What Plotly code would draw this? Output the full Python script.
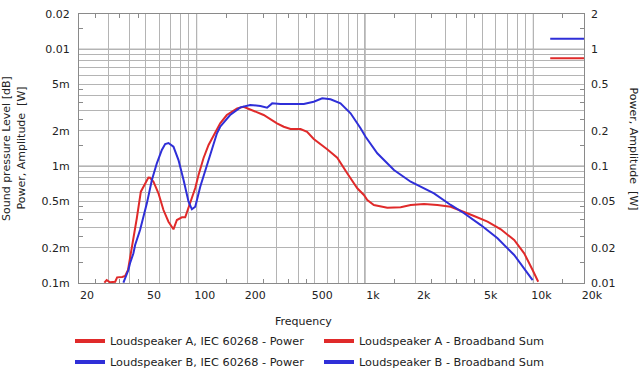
import plotly.graph_objects as go
import math

# ---------------- data ----------------
freq_a = [28.3, 29.2, 30.6, 32.8, 33.7, 36.1, 37.6, 39.1, 40.2, 42.1, 44.1, 46.6, 49.4,
          51.7, 52.9, 55.4, 59.3, 63.5, 68.0, 72.8, 76.3, 81.7, 85.5, 91.6, 98.1, 102.6,
          109.9, 117.7, 126, 138, 151, 174, 190, 208, 250, 300, 329, 361, 414, 453, 496,
          596, 684, 784, 900, 985, 1032, 1129, 1357, 1629, 1868, 2242, 2692, 3231, 3878,
          4446, 5346, 6412, 7694, 8824, 9902, 10692]
power_a = [1.006e-4, 1.06e-4, 1.014e-4, 1.026e-4, 1.118e-4, 1.125e-4, 1.147e-4, 1.291e-4,
           1.636e-4, 2.332e-4, 3.577e-4, 6.04e-4, 7.12e-4, 7.99e-4, 7.95e-4, 7.35e-4,
           5.85e-4, 4.21e-4, 3.345e-4, 2.88e-4, 3.457e-4, 3.646e-4, 3.646e-4, 4.83e-4,
           6.50e-4, 8.39e-4, 1.173e-3, 1.515e-3, 1.844e-3, 2.323e-3, 2.735e-3, 3.12e-3,
           3.22e-3, 3.06e-3, 2.735e-3, 2.323e-3, 2.172e-3, 2.076e-3, 2.076e-3, 1.968e-3,
           1.705e-3, 1.392e-3, 1.180e-3, 8.68e-4, 6.46e-4, 5.66e-4, 5.13e-4, 4.65e-4,
           4.41e-4, 4.44e-4, 4.65e-4, 4.74e-4, 4.65e-4, 4.49e-4, 4.07e-4, 3.74e-4,
           3.345e-4, 2.88e-4, 2.332e-4, 1.795e-4, 1.291e-4, 1.026e-4]

freq_b = [36.7, 38.4, 39.3, 40.2, 42.1, 43.1, 46.1, 50.6, 54.2, 58.0, 62.1, 65.0, 68.0,
          72.8, 78.0, 83.6, 89.5, 93.7, 98.1, 105, 112.5, 120.5, 132, 138, 158, 182, 208,
          239, 262, 281, 314, 433, 496, 557, 624, 715, 821, 941, 1008, 1183, 1486, 1868,
          2348, 2570, 3231, 3878, 4876, 6128, 7694, 8824, 9902]
power_b = [1.006e-4, 1.17e-4, 1.291e-4, 1.474e-4, 1.795e-4, 2.113e-4, 2.84e-4, 4.80e-4,
           7.60e-4, 1.056e-3, 1.373e-3, 1.545e-3, 1.576e-3, 1.464e-3, 1.127e-3, 7.60e-4,
           4.96e-4, 4.27e-4, 4.49e-4, 6.66e-4, 9.26e-4, 1.287e-3, 1.907e-3, 2.172e-3,
           2.735e-3, 3.18e-3, 3.33e-3, 3.27e-3, 3.16e-3, 3.44e-3, 3.40e-3, 3.40e-3,
           3.555e-3, 3.80e-3, 3.73e-3, 3.44e-3, 2.83e-3, 2.105e-3, 1.784e-3, 1.287e-3,
           9.26e-4, 7.35e-4, 6.24e-4, 5.85e-4, 4.65e-4, 3.95e-4, 3.13e-4, 2.41e-4,
           1.736e-4, 1.335e-4, 1.06e-4]

bb_freq = [12600, 20000]
bb_a = [0.836, 0.836]
bb_b = [1.23, 1.23]

names = ["Loudspeaker A, IEC 60268 - Power", "Loudspeaker B, IEC 60268 - Power",
         "Loudspeaker A - Broadband Sum", "Loudspeaker B - Broadband Sum"]

x_label_vals = [20, 50, 100, 200, 500, 1000, 2000, 5000, 10000, 20000]
x_label_text = ["20", "50", "100", "200", "500", "1k", "2k", "5k", "10k", "20k"]
x_grid_vals = [30, 40, 50, 60, 70, 80, 90, 200, 300, 400, 500, 600, 700, 800, 900,
               2000, 3000, 4000, 5000, 6000, 7000, 8000, 9000]
x_decade_vals = [100, 1000, 10000]
x_minor_vals = [25, 35, 45, 150, 250, 350, 450, 1500, 2500, 3500, 4500, 15000]

y_label_vals = [1e-4, 2e-4, 5e-4, 1e-3, 2e-3, 5e-3, 0.01, 0.02]
y_label_text = ["0.1m", "0.2m", "0.5m", "1m", "2m", "5m", "0.01", "0.02"]
y_grid_vals = [2e-4, 3e-4, 4e-4, 5e-4, 6e-4, 7e-4, 8e-4, 9e-4,
               2e-3, 3e-3, 4e-3, 5e-3, 6e-3, 7e-3, 8e-3, 9e-3]
y_decade_vals = [1e-3, 0.01]
y_minor_vals = [1.5e-4, 2.5e-4, 3.5e-4, 4.5e-4, 1.5e-3, 2.5e-3, 3.5e-3, 4.5e-3, 0.015]

y2_label_vals = [0.01, 0.02, 0.05, 0.1, 0.2, 0.5, 1, 2]
y2_label_text = ["0.01", "0.02", "0.05", "0.1", "0.2", "0.5", "1", "2"]

RED = "#e02a2a"
BLUE = "#2f2fd8"
GRID = "#b4b4b4"
DARK = "#8a8a8a"
FONT = "DejaVu Sans"

# ---------------- figure ----------------
fig = go.Figure()
fig.add_trace(go.Scatter(x=freq_a, y=power_a, mode="lines", line=dict(color=RED, width=2),
                         showlegend=False, yaxis="y"))
fig.add_trace(go.Scatter(x=freq_b, y=power_b, mode="lines", line=dict(color=BLUE, width=2),
                         showlegend=False, yaxis="y"))
fig.add_trace(go.Scatter(x=bb_freq, y=bb_a, mode="lines", line=dict(color=RED, width=2),
                         showlegend=False, yaxis="y2"))
fig.add_trace(go.Scatter(x=bb_freq, y=bb_b, mode="lines", line=dict(color=BLUE, width=2),
                         showlegend=False, yaxis="y2"))

# legend entries (thicker swatches)
for name, col, leg, grp in [(names[0], RED, "legend", "a"), (names[1], BLUE, "legend", "b"),
                            (names[2], RED, "legend2", "c"), (names[3], BLUE, "legend2", "d")]:
    fig.add_trace(go.Scatter(x=[None], y=[None], mode="lines", name=name,
                             line=dict(color=col, width=4), legend=leg, legendgroup=grp))

# axis tick arrays
xt = sorted(set(x_label_vals + x_grid_vals + x_decade_vals))
xtext = [x_label_text[x_label_vals.index(v)] if v in x_label_vals else "" for v in xt]
yt = sorted(set(y_label_vals + y_grid_vals + y_decade_vals))
ytext = [y_label_text[y_label_vals.index(v)] if v in y_label_vals else "" for v in yt]

LEG_TOP = 326.5
fig.update_layout(
    width=640, height=369,
    margin=dict(l=79, r=56, t=14, b=86, autoexpand=False),
    paper_bgcolor="white", plot_bgcolor="white",
    font=dict(family=FONT, size=11, color="#222222"),
    xaxis=dict(type="log", range=[math.log10(20), math.log10(20000)],
               tickmode="array", tickvals=xt, ticktext=xtext, ticks="",
               showgrid=True, gridcolor=GRID, gridwidth=1,
               showline=True, linecolor=DARK, linewidth=1, mirror="ticks",
               ticklabelshift=8, ticklabelstandoff=2,
               minor=dict(tickmode="array", tickvals=x_minor_vals, ticks="inside",
                          ticklen=4, tickcolor=DARK, showgrid=False),
               zeroline=False, automargin=False),
    yaxis=dict(type="log", range=[math.log10(1e-4), math.log10(0.02)],
               tickmode="array", tickvals=yt, ticktext=ytext, ticks="",
               showgrid=True, gridcolor=GRID, gridwidth=1,
               showline=True, linecolor=DARK, linewidth=1, mirror="ticks",
               ticklabelstandoff=6,
               minor=dict(tickmode="array", tickvals=y_minor_vals, ticks="inside",
                          ticklen=4, tickcolor=DARK, showgrid=False),
               zeroline=False, automargin=False),
    yaxis2=dict(type="log", range=[math.log10(0.01), math.log10(2)], overlaying="y",
                side="right", tickmode="array", tickvals=y2_label_vals,
                ticktext=y2_label_text, ticks="", showgrid=False, showline=False,
                ticklabelstandoff=6, zeroline=False, automargin=False),
    legend=dict(x=(70 - 79) / 505, y=(283 - LEG_TOP) / 269, xanchor="left", yanchor="top",
                orientation="v", traceorder="grouped", tracegroupgap=2,
                font=dict(family=FONT, size=11.3, color="#222222"),
                bgcolor="rgba(0,0,0,0)"),
    legend2=dict(x=(319 - 79) / 505, y=(283 - LEG_TOP) / 269, xanchor="left", yanchor="top",
                 orientation="v", traceorder="grouped", tracegroupgap=2,
                 font=dict(family=FONT, size=11.3, color="#222222"),
                 bgcolor="rgba(0,0,0,0)"),
)

# darker decade grid lines
for v in x_decade_vals:
    fig.add_shape(type="line", xref="x", yref="paper", x0=v, x1=v, y0=0, y1=1,
                  line=dict(color=DARK, width=1), layer="below")
for v in y_decade_vals:
    fig.add_shape(type="line", xref="paper", yref="y", x0=0, x1=1, y0=v, y1=v,
                  line=dict(color=DARK, width=1), layer="below")

# axis titles
fig.add_annotation(text="Frequency", xref="paper", yref="paper",
                   x=(303.5 - 79) / 505, y=(283 - 321.7) / 269, showarrow=False,
                   xanchor="center", yanchor="middle", font=dict(size=11))
fig.add_annotation(text="Sound pressure Level [dB]", xref="paper", yref="paper",
                   x=(6.5 - 79) / 505, y=0.5, showarrow=False, textangle=-90,
                   xanchor="center", yanchor="middle", font=dict(size=11))
fig.add_annotation(text="Power, Amplitude  [W]", xref="paper", yref="paper",
                   x=(21 - 79) / 505, y=0.5, showarrow=False, textangle=-90,
                   xanchor="center", yanchor="middle", font=dict(size=11))
fig.add_annotation(text="Power, Amplitude  [W]", xref="paper", yref="paper",
                   x=(633 - 79) / 505, y=0.5, showarrow=False, textangle=90,
                   xanchor="center", yanchor="middle", font=dict(size=11))

fig.write_html("out.html")
